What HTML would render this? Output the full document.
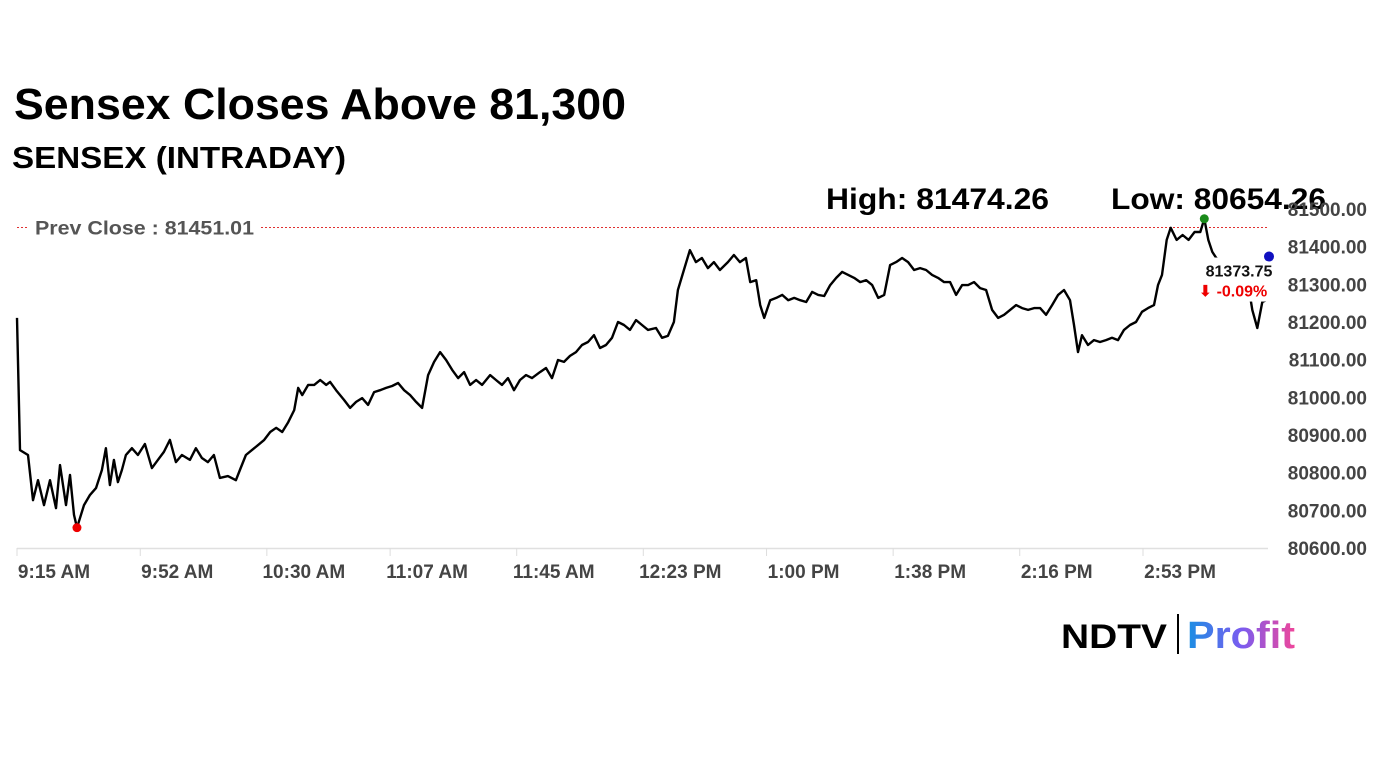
<!DOCTYPE html>
<html><head><meta charset="utf-8"><style>
html,body{margin:0;padding:0;background:#fff;}
svg{display:block;}
</style></head><body>
<svg id="chart" width="1382" height="777" viewBox="0 0 1382 777" xmlns="http://www.w3.org/2000/svg">
<defs><linearGradient id="pg" x1="0" x2="1" y1="0" y2="0"><stop offset="0" stop-color="#1a8fe3"/><stop offset="0.5" stop-color="#7a5cf0"/><stop offset="1" stop-color="#f0469a"/></linearGradient></defs>
<text x="14" y="119" font-family="Liberation Sans, sans-serif" font-weight="bold" font-size="44" textLength="612" lengthAdjust="spacingAndGlyphs" fill="#000">Sensex Closes Above 81,300</text>
<text x="12" y="168" font-family="Liberation Sans, sans-serif" font-weight="bold" font-size="31" textLength="334" lengthAdjust="spacingAndGlyphs" fill="#000">SENSEX (INTRADAY)</text>
<text x="826" y="209" font-family="Liberation Sans, sans-serif" font-weight="bold" font-size="30" textLength="223" lengthAdjust="spacingAndGlyphs" fill="#000">High: 81474.26</text>
<text x="1111" y="209" font-family="Liberation Sans, sans-serif" font-weight="bold" font-size="30" textLength="215" lengthAdjust="spacingAndGlyphs" fill="#000">Low: 80654.26</text>
<g id="axes"></g>
<g id="series"></g>
<g>
<text x="1061" y="648" font-family="Liberation Sans, sans-serif" font-weight="bold" font-size="34" textLength="106" lengthAdjust="spacingAndGlyphs" fill="#000">NDTV</text>
<rect x="1177" y="614" width="2" height="40" fill="#000"/>
<text x="1187" y="648" font-family="Liberation Sans, sans-serif" font-weight="bold" font-size="38" textLength="108" lengthAdjust="spacingAndGlyphs" fill="url(#pg)">Profit</text>
</g>
</svg>
<script>
const minutes=[0,0.9,3.3,4.8,6.3,8.1,9.9,11.7,12.9,14.7,15.9,17.1,18,20.1,21.9,23.7,25.5,26.7,27.9,29.1,30.3,31.5,32.7,34.5,36.3,38.4,40.5,42.3,44.1,45.9,47.7,49.5,51.9,53.7,55.5,57.3,59.1,60.9,63.3,65.7,66.9,68.7,70.5,72.3,74.2,76,77.8,79.6,81.4,83.2,84.4,85.6,87.4,89.2,91,92.8,94,95.8,98.2,100,101.8,103.6,105.4,107.2,109,110.8,112.6,114.4,116.2,118,119.8,121.6,123.4,125.2,127,128.8,130.6,132.4,134.2,136,137.8,139.6,142,143.8,145.6,147.4,149.2,151,152.8,154.6,157,158.8,160.6,162.4,164.2,166,167.8,169.6,171.4,173.2,175,176.8,178.6,180.4,182.2,184,185.8,187.6,189.4,191.8,193.6,195.4,197.2,198.4,200.2,202,203.8,205.6,207.4,209.2,211,213.4,215.2,217,218.8,220.1,221.9,223.1,224.3,226.1,227.9,229.7,231.5,233.3,235.1,236.9,238.7,240.5,242.3,244.1,245.9,247.7,249.5,251.3,253.1,254.9,256.7,258.5,260.3,262.1,263.9,265.7,267.5,269.3,271.1,272.9,274.7,276.5,278.3,280.1,281.9,283.7,285.5,287.3,289.1,290.9,292.7,294.5,296.3,298.1,299.9,301.7,303.5,305.3,307.1,308.9,310.7,312.5,314.3,316.1,317.3,318.5,319.7,321.5,323.3,325.1,326.9,328.7,330.5,332.3,334.1,335.9,337.7,339.5,341.3,342.5,343.7,345.1,346.3,348.1,349.9,351.7,353.5,355.2,356.4,357.6,358.8,360,361.9,364.8,367.2,369.6,370.8,372.3,373.8,375];
const values=[81211,80860,80847,80727,80780,80714,80780,80706,80820,80714,80794,80688,80654,80714,80741,80759,80807,80865,80767,80834,80775,80807,80847,80865,80847,80876,80812,80834,80855,80887,80828,80847,80834,80865,80839,80828,80847,80786,80791,80780,80807,80847,80860,80873,80887,80908,80919,80908,80934,80966,81025,81006,81033,81033,81046,81033,81041,81019,80993,80972,80988,80998,80980,81014,81019,81025,81030,81038,81019,81006,80988,80972,81059,81094,81120,81099,81073,81051,81067,81033,81046,81033,81059,81046,81033,81051,81019,81046,81059,81051,81067,81078,81051,81099,81094,81110,81120,81139,81147,81165,81131,81139,81158,81200,81192,81179,81205,81192,81179,81184,81158,81163,81200,81285,81338,81391,81359,81370,81343,81359,81338,81359,81378,81359,81370,81306,81311,81245,81211,81258,81264,81272,81258,81264,81258,81253,81280,81272,81269,81298,81317,81333,81325,81317,81306,81311,81298,81264,81272,81351,81359,81370,81359,81338,81343,81338,81325,81317,81306,81306,81272,81298,81298,81306,81290,81285,81232,81211,81219,81232,81245,81237,81232,81237,81237,81219,81245,81272,81285,81258,81192,81120,81165,81139,81152,81147,81152,81158,81152,81179,81192,81200,81227,81237,81245,81298,81325,81418,81450,81418,81431,81418,81439,81439,81474,81418,81386,81370,81359,81359,81354,81298,81232,81184,81253,81258];
const yTicks=[81500,81400,81300,81200,81100,81000,80900,80800,80700,80600];
const xTickMinutes=[0,37,75,112,150,188,225,263,301,338];
const xTickLabels=["9:15 AM","9:52 AM","10:30 AM","11:07 AM","11:45 AM","12:23 PM","1:00 PM","1:38 PM","2:16 PM","2:53 PM"];
const prevClose=81451.01;
const lastValue=81373.75;
const changePct=-0.09;

const NS="http://www.w3.org/2000/svg";
const X=m=>17+m*(1126/338);
const Y=v=>209+(81500-v)*(339/900);
function mk(tag,attrs,parent,text){const e=document.createElementNS(NS,tag);for(const k in attrs)e.setAttribute(k,attrs[k]);if(text!==undefined)e.textContent=text;parent.appendChild(e);return e;}
const axes=document.getElementById('axes'),series=document.getElementById('series');
const xa=mk('line',{x1:17,x2:1268,y1:548.5,y2:548.5,stroke:'#e0e0e0','stroke-width':1.5},axes);


yTicks.forEach(v=>{
 const t=mk('text',{x:1367,y:Y(v)+7,'text-anchor':'end','font-family':'Liberation Sans, sans-serif','font-weight':'bold','font-size':19,fill:'#444'},axes,v.toFixed(2));
 
 
});
xTickMinutes.forEach((m,i)=>{
 mk('line',{x1:X(m),x2:X(m),y1:548,y2:556,stroke:'#ddd','stroke-width':1},axes);
 const t=mk('text',{x:X(m)+37,y:578,'text-anchor':'middle','font-family':'Liberation Sans, sans-serif','font-weight':'bold','font-size':19,fill:'#444'},axes,xTickLabels[i]);
 
 
});
const pl=mk('line',{x1:17,x2:1268,y1:Y(prevClose),y2:Y(prevClose),stroke:'#e03030','stroke-width':1,'stroke-dasharray':'2,2'},axes);


mk('rect',{x:28,y:Y(prevClose)-12,width:232,height:24,fill:'#fff'},axes);
const pt=mk('text',{x:35,y:Y(prevClose)+7,'font-family':'Liberation Sans, sans-serif','font-weight':'bold','font-size':19,textLength:219,lengthAdjust:'spacingAndGlyphs',fill:'#555'},axes,'Prev Close : '+prevClose.toFixed(2));


const d=minutes.map((m,i)=>(i?'L':'M')+X(m).toFixed(1)+','+Y(values[i]).toFixed(1)).join('');
const line=mk('path',{d:d,fill:'none',stroke:'#000','stroke-width':2.4,'stroke-linejoin':'round'},series);


let hi=0,lo=0;values.forEach((v,i)=>{if(v>values[hi])hi=i;if(v<values[lo])lo=i;});
const hd=mk('circle',{cx:X(minutes[hi]),cy:Y(values[hi]),r:4.5,fill:'#1a8a1a'},series);


const ld=mk('circle',{cx:X(minutes[lo]),cy:Y(values[lo]),r:4.5,fill:'#e00'},series);


mk('rect',{x:1198,y:Y(lastValue)+1,width:80,height:44,fill:'#fff'},series);
const cd=mk('circle',{cx:1269,cy:Y(lastValue),r:5,fill:'#1010c0'},series);


const lv=mk('text',{x:1239,y:Y(lastValue)+20,'text-anchor':'middle','font-family':'Liberation Sans, sans-serif','font-weight':'bold','font-size':16,fill:'#111'},series,lastValue.toFixed(2));


const cp=mk('text',{x:1233,y:Y(lastValue)+40,'text-anchor':'middle','font-family':'Liberation Sans, DejaVu Sans, sans-serif','font-weight':'bold','font-size':16,fill:'#e00'},series,'\u2B07 '+changePct.toFixed(2)+'%');


</script>
</body></html>
